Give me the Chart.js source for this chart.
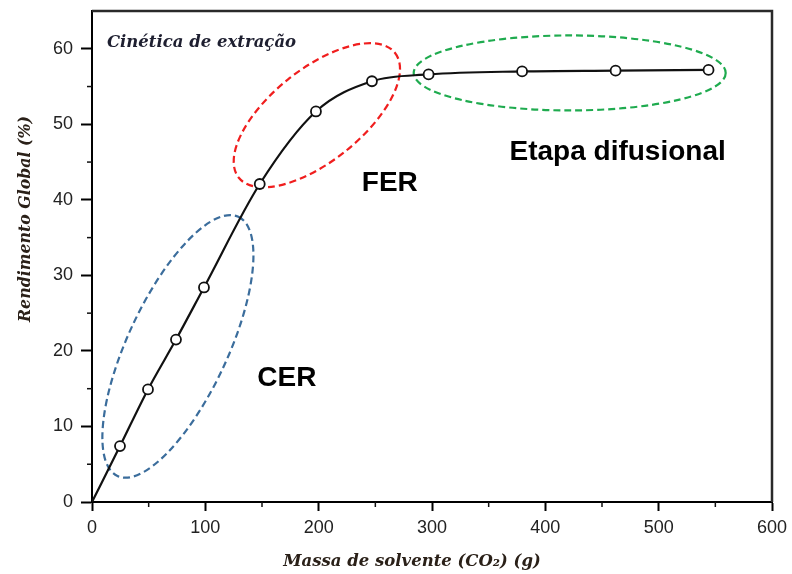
<!DOCTYPE html>
<html lang="pt">
<head>
<meta charset="utf-8">
<title>Cinética de extração</title>
<script src="https://cdn.jsdelivr.net/npm/chart.js@4.4.0/dist/chart.umd.min.js"></script>
<style>
  html, body { margin: 0; padding: 0; background: #fff; }
  #wrap { width: 792px; height: 574px; }
</style>
</head>
<body>
<div id="wrap"><canvas id="extracaoChart"></canvas></div>
<script>
// Dados experimentais: massa de CO2 (g) e rendimento global (%)
const massaCO2 = [24.7, 49.4, 74.1, 98.8, 148, 197.6, 247, 297, 379.5, 462, 544];
const rendimento = [7.4, 14.9, 21.5, 28.4, 42.1, 51.7, 55.7, 56.6, 57.0, 57.1, 57.2];

// A curva ajustada parte da origem
const curvaX = [0].concat(massaCO2);
const curvaY = [0].concat(rendimento);

// Marcas dos eixos
const ticksX = [0, 100, 200, 300, 400, 500, 600];
const ticksY = [0, 10, 20, 30, 40, 50, 60];
const minorX = [50, 150, 250, 350, 450, 550];
const minorY = [5, 15, 25, 35, 45, 55];

const pontos = massaCO2.map((x, i) => ({ x: x, y: rendimento[i] }));
const curva = curvaX.map((x, i) => ({ x: x, y: curvaY[i] }));

// Regiões CER / FER / difusional (centro em unidades dos eixos, raios em px)
const regioes = [
  { x: 75.8, y: 20.6, rx: 143, ry: 50, rot: -65, cor: '#3b6d9c' },
  { x: 198.4, y: 51.2, rx: 100, ry: 46, rot: -38.7, cor: '#f01e1e' },
  { x: 421.5, y: 56.8, rx: 156, ry: 37.5, rot: 0, cor: '#1fab4f' }
];

const rotulos = [
  { texto: 'FER', x: 262.8, y: 42.2 },
  { texto: 'CER', x: 172, y: 16.4 },
  { texto: 'Etapa difusional', x: 463.8, y: 46.3 }
];

const decoracao = {
  id: 'decoracao',
  beforeDatasetsDraw(chart) {
    const ctx = chart.ctx;
    const sx = chart.scales.x, sy = chart.scales.y;
    ctx.save();
    ctx.lineWidth = 2.2;
    ctx.setLineDash([7, 4]);
    regioes.forEach(r => {
      ctx.strokeStyle = r.cor;
      ctx.beginPath();
      ctx.ellipse(sx.getPixelForValue(r.x), sy.getPixelForValue(r.y), r.rx, r.ry, r.rot * Math.PI / 180, 0, Math.PI * 2);
      ctx.stroke();
    });
    ctx.restore();
  },
  afterDraw(chart) {
    const ctx = chart.ctx;
    const a = chart.chartArea;
    const sx = chart.scales.x, sy = chart.scales.y;
    ctx.save();

    // moldura superior e direita
    ctx.strokeStyle = '#2a2a2a';
    ctx.lineWidth = 2.5;
    ctx.beginPath();
    ctx.moveTo(a.left, a.top);
    ctx.lineTo(a.right, a.top);
    ctx.lineTo(a.right, a.bottom);
    ctx.stroke();

    // marcas secundárias
    ctx.strokeStyle = '#111';
    ctx.lineWidth = 1.5;
    minorX.forEach(v => {
      const px = sx.getPixelForValue(v);
      ctx.beginPath();
      ctx.moveTo(px, a.bottom);
      ctx.lineTo(px, a.bottom + 5);
      ctx.stroke();
    });
    minorY.forEach(v => {
      const py = sy.getPixelForValue(v);
      ctx.beginPath();
      ctx.moveTo(a.left, py);
      ctx.lineTo(a.left - 5, py);
      ctx.stroke();
    });

    // rótulos das etapas
    ctx.fillStyle = '#000';
    ctx.font = "bold 28px 'Liberation Sans', Arial, sans-serif";
    ctx.textAlign = 'center';
    ctx.textBaseline = 'middle';
    rotulos.forEach(r => {
      ctx.fillText(r.texto, sx.getPixelForValue(r.x), sy.getPixelForValue(r.y));
    });

    // título interno
    ctx.fillStyle = '#1e1f30';
    ctx.font = "italic bold 16.5px 'DejaVu Serif', serif";
    ctx.textAlign = 'left';
    ctx.textBaseline = 'alphabetic';
    ctx.fillText('Cinética de extração', sx.getPixelForValue(13.2), sy.getPixelForValue(60.3));

    // títulos dos eixos
    ctx.fillStyle = '#2a2018';
    ctx.textAlign = 'center';
    ctx.textBaseline = 'middle';
    ctx.fillText('Massa de solvente (CO\u2082) (g)', a.left + 320, a.bottom + 60);
    ctx.font = "italic bold 15.8px 'DejaVu Serif', serif";
    ctx.translate(a.left - 66, a.top + 208);
    ctx.rotate(-Math.PI / 2);
    ctx.fillText('Rendimento Global (%)', 0, 0);
    ctx.restore();
  }
};

const ctx = document.getElementById('extracaoChart').getContext('2d');
const extracaoChart = new Chart(ctx, {
  type: 'scatter',
  data: {
    datasets: [{
      label: 'Rendimento',
      data: pontos,
      showLine: false,
      pointRadius: 5,
      pointHoverRadius: 5,
      pointBackgroundColor: '#fff',
      pointBorderColor: '#111',
      pointBorderWidth: 1.8,
      order: 0
    }, {
      label: 'Curva',
      data: curva,
      showLine: true,
      borderColor: '#111',
      borderWidth: 2.2,
      pointRadius: 0,
      cubicInterpolationMode: 'monotone',
      fill: false,
      order: 1
    }]
  },
  options: {
    responsive: true,
    maintainAspectRatio: false,
    animation: false,
    layout: { padding: { left: 0, right: 20, top: 11, bottom: 0 } },
    plugins: {
      legend: { display: false },
      tooltip: { enabled: false }
    },
    scales: {
      x: {
        type: 'linear',
        min: 0,
        max: 600,
        afterFit(scale) {
          scale.height = 72;
          scale.paddingLeft = 0;
          scale.paddingRight = 0;
        },
        border: { color: '#000', width: 2 },
        grid: { drawOnChartArea: false, tickLength: 9, tickColor: '#000', tickWidth: 2 },
        ticks: {
          stepSize: 100,
          includeBounds: false,
          padding: 6,
          color: '#222',
          font: { family: "'Liberation Sans', Arial, sans-serif", size: 18 },
          callback: v => ticksX.includes(v) ? v : ''
        }
      },
      y: {
        type: 'linear',
        min: 0,
        max: 65,
        afterFit(scale) {
          scale.width = 92;
          scale.paddingTop = 0;
          scale.paddingBottom = 0;
        },
        border: { color: '#000', width: 2 },
        grid: { drawOnChartArea: false, tickLength: 11, tickColor: '#000', tickWidth: 2 },
        ticks: {
          stepSize: 10,
          includeBounds: false,
          padding: 8,
          color: '#222',
          font: { family: "'Liberation Sans', Arial, sans-serif", size: 18 },
          callback: v => ticksY.includes(v) ? v : ''
        }
      }
    }
  },
  plugins: [decoracao]
});
</script>
</body>
</html>
